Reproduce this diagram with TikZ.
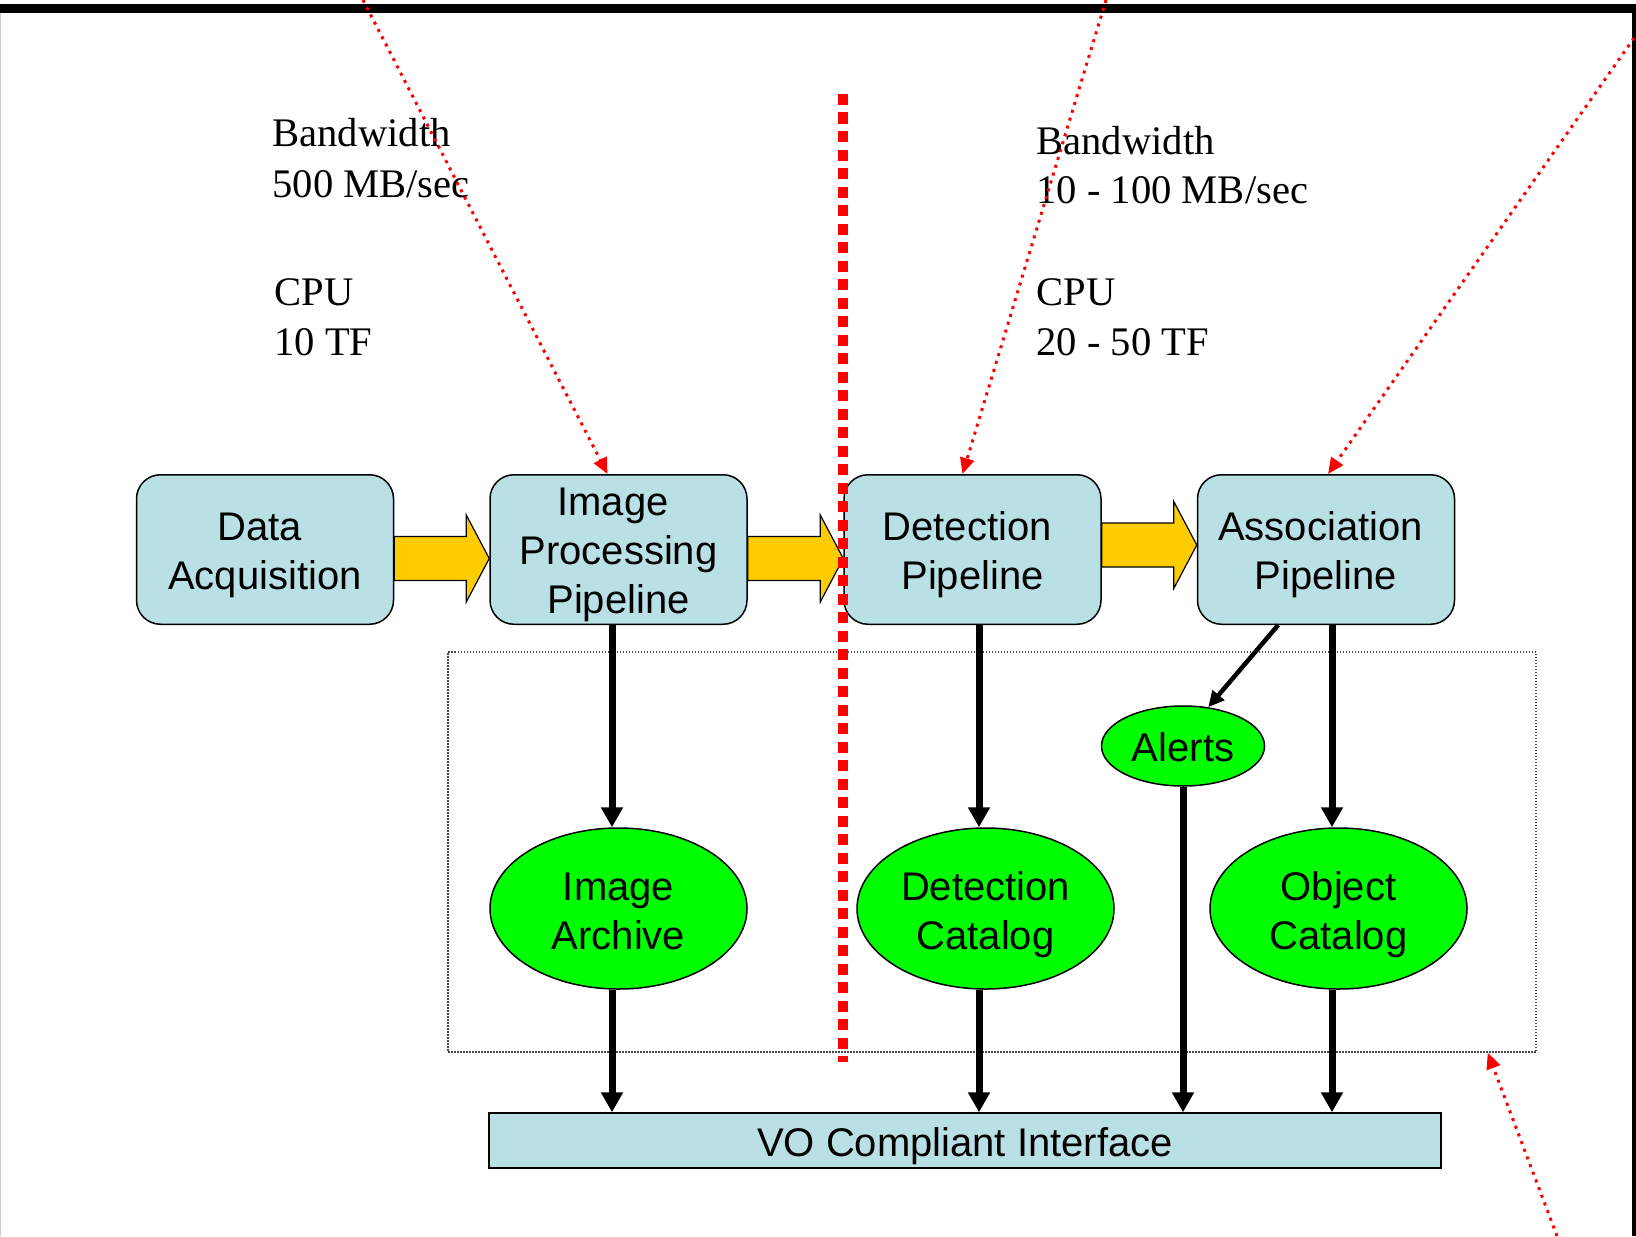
\documentclass[tikz,border=0pt]{standalone}
\usepackage{fontspec}
\setmainfont{Liberation Serif}
\newfontfamily\arialf{Liberation Sans}
\usetikzlibrary{shapes.geometric,arrows.meta,calc}

\definecolor{boxblue}{RGB}{185,224,228}
\definecolor{feedgold}{RGB}{255,204,0}
\definecolor{storegreen}{RGB}{0,255,0}
\definecolor{regiongray}{RGB}{70,70,70}

% full ascent/descent of a text line, so labels sit as in a text frame
\newcommand{\linestrut}{\rule[-4.24pt]{0pt}{22.34pt}}
% extra head room on the first line of a label
\newcommand{\headstrut}[1]{\rule{0pt}{#1}}
% trailing space kept at the end of a first line
\newcommand{\trail}{\rule{5.5pt}{0pt}}

\tikzset{
  pipebox/.style={draw, line width=0.75pt, fill=boxblue, rounded corners=12pt,
    minimum width=128.5pt, minimum height=74.75pt, inner sep=0pt, align=center,
    font=\arialf\fontsize{20}{24.5}\selectfont},
  storeell/.style={ellipse, draw, line width=0.75pt, fill=storegreen, inner sep=0pt,
    align=center, font=\arialf\fontsize{20}{24.5}\selectfont},
  specs/.style={anchor=base west, inner sep=0pt, font=\fontsize{20.3}{25}\selectfont},
  flow/.style={line width=3.5pt, -{Triangle[length=10pt,width=10.5pt]}},
  flowthin/.style={line width=2.25pt, -{Triangle[length=8pt,width=7.5pt]}},
  hint/.style={red, line width=1.5pt, dash pattern=on 1.5pt off 2.6pt,
    -{Triangle[length=8pt,width=7pt]}},
  feed/.style={draw=black, line width=0.6pt, fill=feedgold, line join=miter},
}

% block arrow between two pipeline boxes; #3 shifts its axis vertically
\newcommand{\feedarrow}[3]{%
  \draw[feed] let \p1=(#1.east), \p2=(#2.west) in
    ({\x1},{\y1+(#3)+11pt}) -- ({\x2-11.5pt},{\y1+(#3)+11pt}) -- ({\x2-11.5pt},{\y1+(#3)+21.75pt})
    -- ({\x2},{\y1+(#3)}) -- ({\x2-11.5pt},{\y1+(#3)-21.75pt}) -- ({\x2-11.5pt},{\y1+(#3)-11pt})
    -- ({\x1},{\y1+(#3)-11pt}) -- cycle;}

\begin{document}
\begin{tikzpicture}[x=0.5pt,y=-0.5pt]
  \useasboundingbox (0,0) rectangle (1636,1236);
  \fill[white] (0,0) rectangle (1636,1236);

  % frame
  \draw[black!20, line width=0.5pt] (0.5,13) -- (0.5,1236);
  \draw[line width=4.5pt] (0,8.5) -- (1636,8.5);
  \draw[line width=2.25pt] (1634,4) -- (1634,1236);

  % storage region
  \node[draw=regiongray, line width=0.75pt, dash pattern=on 0.75pt off 0.75pt,
        minimum width=544pt, minimum height=200pt, inner sep=0pt] (region) at (992,852) {};

  % specification notes
  \node[specs] (bwl) at (272,147) {Bandwidth};
  \node[specs] (bwlv) at (272,197) {500 MB/sec};
  \node[specs] (cpul) at (274,305) {CPU};
  \node[specs] (cpulv) at (274,355) {10 TF};
  \node[specs] (bwr) at (1036,155) {Bandwidth};
  \node[specs] (bwrv) at (1036,203) {10 - 100 MB/sec};
  \node[specs] (cpur) at (1036,305) {CPU};
  \node[specs] (cpurv) at (1036,355) {20 - 50 TF};

  % pipeline stages
  \node[pipebox] (da) at (265,549.5)
       {\headstrut{20.2pt}\linestrut Data\trail\\\linestrut Acquisition};
  \node[pipebox] (ip) at (618.5,549.5)
       {\headstrut{19pt}\linestrut Image\trail\\\linestrut Processing\\\linestrut Pipeline};
  \node[pipebox] (dt) at (972.5,549.5)
       {\headstrut{20.2pt}\linestrut Detection\trail\\\linestrut Pipeline};
  \node[pipebox] (as) at (1326,549.5)
       {\headstrut{20.2pt}\linestrut Association\trail\\\linestrut Pipeline};

  % data products
  \node[storeell, minimum width=128.5pt, minimum height=80.5pt] (ia) at (618.5,908.5)
       {\headstrut{21pt}\linestrut Image\\\linestrut Archive};
  \node[storeell, minimum width=128.5pt, minimum height=80.5pt] (dc) at (985.5,908.5)
       {\headstrut{21pt}\linestrut Detection\\\linestrut Catalog};
  \node[storeell, minimum width=128.5pt, minimum height=80.5pt] (oc) at (1338.5,908.5)
       {\headstrut{21pt}\linestrut Object\\\linestrut Catalog};
  \node[storeell, minimum width=81.5pt, minimum height=40pt] (al) at (1183,746)
       {\headstrut{19.5pt}\linestrut Alerts};

  % interface
  \node[draw, line width=0.75pt, fill=boxblue, minimum width=476pt, minimum height=27.5pt,
        inner sep=0pt, font=\arialf\fontsize{20}{24.5}\selectfont] (vo) at (965,1140.5)
        {\headstrut{20.2pt}\linestrut VO Compliant Interface};

  % block arrows along the pipeline
  \feedarrow{da}{ip}{-4.5pt}
  \feedarrow{ip}{dt}{-4.5pt}
  \feedarrow{dt}{as}{2.25pt}

  % data flow columns
  \coordinate (colA) at (612,0);
  \coordinate (colB) at (979,0);
  \coordinate (colC) at (1183,0);
  \coordinate (colD) at (1332,0);
  \draw[flow] (ip.south -| colA) -- (ia.north -| colA);
  \draw[flow] (ia.south -| colA) -- (vo.north -| colA);
  \draw[flow] (dt.south -| colB) -- (dc.north -| colB);
  \draw[flow] (dc.south -| colB) -- (vo.north -| colB);
  \draw[flow] (al.south -| colC) -- (vo.north -| colC);
  \draw[flow] (as.south -| colD) -- (oc.north -| colD);
  \draw[flow] (oc.south -| colD) -- (vo.north -| colD);
  \draw[flowthin] ($(as.south west)!0.315!(as.south east)$) -- (al.57);

  % site boundary
  \draw[red, line width=5pt, dash pattern=on 5.5pt off 3.75pt] (843,94) -- (843,1062);

  % pointers from outside
  \coordinate (p1) at (363,0);
  \coordinate (p2) at (1106,0);
  \coordinate (p3) at (1634,38);
  \coordinate (p4) at (1557,1236);
  \draw[hint] (p1) -- ($(ip.north)+(-11,0)$);
  \draw[hint] (p2) -- ($(dt.north)+(-10,0)$);
  \draw[hint] (p3) -- ($(as.north)+(2,0)$);
  \draw[hint] (p4) -- ($(region.south east)+(-49,0)$);
\end{tikzpicture}
\end{document}
